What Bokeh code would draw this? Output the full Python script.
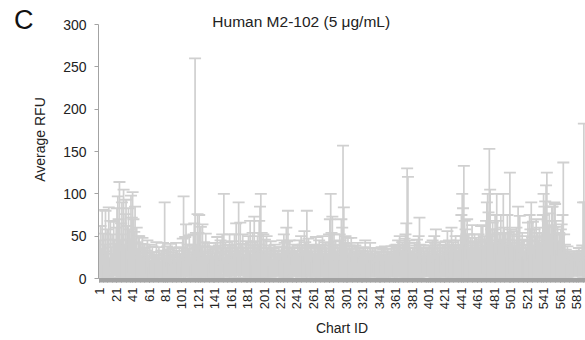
import math
from bokeh.plotting import figure
from bokeh.models import ColumnDataSource, Whisker, TeeHead, Range1d, FixedTicker, Label, LinearAxis
from bokeh.embed import file_html
from bokeh.resources import INLINE

# ---------------- data ----------------
chart_ids = list(range(1, 601))

mean_rfu = [
    25, 32, 20, 36, 16, 28, 22, 40, 18, 30, 24, 34, 14, 38, 21, 28, 17, 32, 26, 23,
    30, 38, 42, 35, 47, 25, 33, 40, 27, 45, 22, 36, 41, 24, 32, 38, 30, 26, 43, 34,
    42, 35, 27, 40, 23, 30, 20, 25, 28, 17, 21, 15, 24, 19, 22, 16, 20, 18, 23, 14,
    15, 18, 12, 16, 20, 14, 17, 11, 15, 19, 13, 16, 20, 14, 12, 18, 15, 22, 17, 25,
    14, 17, 20, 13, 18, 15, 21, 12, 17, 14, 19, 16, 13, 22, 15, 18, 13, 20, 16, 14,
    20, 25, 30, 18, 24, 34, 16, 22, 20, 27, 15, 23, 18, 21, 26, 30, 40, 24, 20, 26,
    24, 30, 18, 26, 21, 34, 16, 23, 20, 28, 15, 22, 18, 24, 14, 21, 17, 19, 14, 20,
    16, 22, 19, 25, 15, 21, 17, 24, 20, 30, 18, 35, 14, 23, 19, 16, 22, 18, 26, 21,
    18, 24, 20, 16, 26, 22, 30, 17, 21, 35, 19, 26, 15, 23, 28, 20, 16, 22, 18, 24,
    20, 26, 18, 30, 23, 16, 28, 21, 33, 18, 24, 20, 26, 22, 30, 35, 40, 24, 18, 26,
    18, 22, 16, 24, 20, 15, 21, 17, 23, 19, 14, 20, 16, 22, 18, 15, 19, 17, 21, 16,
    17, 21, 24, 19, 26, 22, 18, 30, 23, 35, 20, 24, 16, 21, 18, 22, 15, 20, 17, 19,
    18, 21, 16, 24, 20, 26, 17, 22, 19, 30, 23, 18, 35, 21, 26, 17, 20, 15, 22, 18,
    16, 20, 18, 23, 15, 21, 19, 24, 17, 22, 20, 26, 16, 21, 18, 23, 19, 17, 22, 26,
    30, 35, 24, 28, 21, 26, 20, 23, 18, 22, 17, 21, 26, 24, 30, 28, 40, 26, 21, 24,
    20, 18, 22, 16, 21, 19, 24, 17, 20, 15, 18, 21, 16, 19, 22, 17, 20, 18, 16, 19,
    16, 19, 14, 21, 17, 15, 20, 18, 16, 22, 14, 18, 20, 15, 17, 19, 16, 14, 18, 15,
    14, 17, 15, 19, 16, 18, 13, 20, 15, 17, 19, 14, 16, 18, 15, 20, 17, 16, 19, 21,
    18, 22, 20, 24, 19, 26, 21, 18, 23, 20, 22, 25, 26, 30, 35, 30, 22, 24, 20, 18,
    16, 20, 18, 22, 17, 21, 24, 19, 26, 30, 22, 18, 20, 16, 21, 18, 15, 19, 17, 20,
    18, 21, 16, 23, 19, 24, 20, 26, 22, 28, 18, 21, 17, 20, 23, 19, 16, 22, 18, 21,
    20, 23, 18, 26, 21, 24, 19, 22, 30, 20, 23, 18, 21, 26, 22, 19, 24, 21, 20, 26,
    30, 35, 33, 40, 28, 26, 24, 30, 22, 26, 20, 24, 21, 28, 23, 19, 26, 22, 24, 21,
    22, 26, 20, 24, 30, 23, 28, 21, 26, 24, 30, 35, 40, 33, 45, 30, 26, 24, 28, 22,
    26, 30, 24, 35, 28, 23, 26, 21, 30, 24, 26, 40, 28, 23, 26, 22, 30, 26, 24, 35,
    26, 22, 24, 20, 26, 23, 21, 28, 24, 30, 22, 26, 20, 23, 26, 21, 24, 18, 22, 20,
    24, 28, 22, 30, 26, 35, 23, 29, 21, 26, 24, 30, 20, 26, 23, 28, 22, 26, 24, 30,
    35, 30, 33, 40, 45, 28, 26, 32, 24, 28, 35, 30, 26, 40, 33, 28, 24, 26, 22, 26,
    24, 26, 28, 30, 35, 24, 20, 18, 16, 20, 14, 18, 16, 15, 17, 14, 16, 18, 15, 13,
    16, 18, 15, 20, 17, 14, 19, 21, 30, 40, 35, 18, 16, 20, 17, 15, 18, 16, 14, 17,
]

err_rfu = [
    20, 30, 15, 45, 12, 25, 18, 40, 14, 28, 22, 50, 10, 30, 16, 24, 12, 35, 20, 18,
    30, 45, 55, 35, 67, 20, 32, 50, 25, 60, 18, 40, 52, 22, 30, 45, 28, 20, 55, 38,
    60, 35, 28, 45, 20, 30, 15, 25, 22, 14, 20, 12, 24, 16, 18, 13, 17, 15, 22, 11,
    12, 22, 9, 15, 18, 10, 14, 8, 12, 24, 9, 12, 17, 11, 8, 15, 12, 20, 13, 65,
    10, 15, 18, 9, 16, 12, 20, 8, 14, 11, 17, 12, 10, 20, 11, 15, 9, 17, 13, 11,
    16, 22, 67, 15, 25, 30, 12, 18, 15, 24, 10, 17, 13, 18, 26, 35, 220, 30, 16, 50,
    30, 45, 20, 35, 16, 30, 14, 20, 18, 25, 12, 20, 14, 18, 11, 16, 13, 15, 10, 18,
    14, 20, 16, 24, 11, 18, 13, 21, 16, 22, 14, 65, 11, 20, 16, 12, 18, 14, 26, 18,
    14, 20, 16, 12, 26, 18, 35, 12, 16, 55, 14, 40, 11, 18, 24, 16, 12, 18, 14, 20,
    16, 24, 14, 38, 20, 12, 26, 18, 40, 14, 20, 16, 24, 18, 38, 50, 60, 30, 14, 26,
    14, 24, 12, 26, 16, 11, 18, 13, 21, 16, 9, 16, 12, 18, 14, 11, 14, 12, 16, 12,
    12, 16, 21, 14, 26, 20, 14, 30, 21, 45, 16, 21, 12, 16, 13, 18, 11, 16, 12, 14,
    14, 18, 12, 21, 16, 24, 12, 18, 14, 26, 20, 13, 45, 18, 21, 12, 16, 11, 18, 14,
    12, 18, 14, 26, 11, 18, 16, 21, 12, 18, 16, 24, 12, 18, 14, 20, 16, 12, 20, 26,
    40, 65, 30, 45, 18, 26, 16, 21, 14, 18, 12, 16, 26, 21, 40, 32, 117, 58, 21, 26,
    21, 16, 26, 14, 18, 16, 24, 12, 18, 11, 14, 18, 12, 16, 20, 13, 16, 14, 11, 14,
    14, 18, 10, 24, 12, 11, 16, 14, 12, 20, 9, 14, 16, 10, 12, 16, 11, 9, 14, 10,
    10, 14, 11, 18, 12, 16, 9, 18, 11, 14, 16, 10, 12, 14, 10, 18, 13, 12, 16, 18,
    14, 18, 16, 21, 14, 24, 18, 14, 20, 16, 18, 22, 26, 35, 95, 90, 20, 21, 16, 14,
    12, 16, 14, 20, 12, 18, 22, 16, 24, 42, 18, 14, 16, 11, 18, 14, 10, 16, 12, 16,
    14, 18, 11, 20, 16, 21, 16, 24, 20, 30, 14, 18, 12, 16, 20, 16, 11, 18, 14, 18,
    16, 21, 14, 30, 18, 21, 14, 18, 30, 16, 20, 14, 18, 24, 18, 14, 21, 18, 16, 24,
    45, 65, 50, 93, 40, 32, 28, 40, 20, 26, 16, 24, 18, 35, 21, 16, 26, 20, 24, 18,
    20, 26, 16, 22, 32, 21, 35, 18, 24, 22, 38, 55, 60, 45, 108, 75, 32, 26, 38, 20,
    32, 45, 28, 65, 40, 22, 28, 18, 45, 22, 28, 60, 32, 20, 28, 18, 45, 28, 22, 90,
    32, 20, 28, 18, 30, 22, 18, 32, 26, 55, 20, 48, 16, 22, 28, 18, 22, 14, 18, 16,
    26, 38, 22, 45, 32, 55, 26, 38, 18, 32, 26, 40, 16, 28, 22, 32, 20, 28, 24, 45,
    65, 55, 58, 70, 80, 40, 35, 45, 28, 35, 50, 55, 35, 50, 55, 40, 28, 35, 22, 28,
    28, 32, 36, 45, 102, 28, 20, 16, 14, 18, 11, 14, 12, 10, 13, 11, 12, 14, 11, 9,
    12, 14, 11, 16, 13, 10, 14, 18, 60, 143, 55, 14, 12, 16, 13, 10, 14, 12, 10, 13,
]

x_tick_ids = list(range(1, 600, 20))
y_ticks = [0, 50, 100, 150, 200, 250, 300]

title_text = "Human M2-102 (5 μg/mL)"
panel_letter = "C"

# ---------------- figure ----------------
GRAY = "#d0d0d0"
AXIS = "#a3a3a3"
TXT = "#222222"
FONT = "Liberation Sans"
Y_TOP = 328.35          # frame reaches the top of the page; the axis itself stops at 300

upper = [m + e for m, e in zip(mean_rfu, err_rfu)]
lower = [max(m - e, 0) for m, e in zip(mean_rfu, err_rfu)]
src = ColumnDataSource(dict(x=chart_ids, mean=mean_rfu, upper=upper, lower=lower))

p = figure(width=585, height=340, output_backend="svg", toolbar_location=None,
           x_range=Range1d(-0.5, 592), y_range=Range1d(0, Y_TOP),
           min_border_left=98, min_border_right=0, min_border_top=0, min_border_bottom=62)
p.outline_line_color = None
p.grid.visible = False
p.background_fill_color = "white"

p.vbar(x="x", top="mean", width=0.6, source=src, fill_color=GRAY, line_color=None)

w = Whisker(source=src, base="x", upper="upper", lower="lower",
            line_color=GRAY, line_width=1.7,
            upper_head=TeeHead(size=12, line_color=GRAY, line_width=1.8),
            lower_head=TeeHead(size=12, line_color=GRAY, line_width=1.8))
p.add_layout(w)

# axes
xa = p.xaxis[0]
xa.ticker = FixedTicker(ticks=x_tick_ids, minor_ticks=chart_ids)
xa.major_label_orientation = math.pi / 2
xa.major_label_text_font = FONT
xa.major_label_text_font_size = "13px"
xa.major_label_text_color = TXT
xa.major_label_standoff = 5
xa.axis_line_color = AXIS
xa.major_tick_line_color = AXIS
xa.minor_tick_line_color = AXIS
xa.major_tick_out = 4
xa.major_tick_in = 0
xa.minor_tick_out = 4
xa.minor_tick_in = 0
xa.axis_label = "Chart ID"
xa.axis_label_text_font = FONT
xa.axis_label_text_font_style = "normal"
xa.axis_label_text_font_size = "14px"
xa.axis_label_text_color = TXT
xa.axis_label_standoff = 8

ya = p.yaxis[0]
ya.ticker = FixedTicker(ticks=y_ticks)
ya.bounds = (0, 300)
ya.major_label_text_font = FONT
ya.major_label_text_font_size = "14px"
ya.major_label_text_color = TXT
ya.major_label_standoff = 8
ya.axis_line_color = AXIS
ya.major_tick_line_color = AXIS
ya.major_tick_out = 4
ya.major_tick_in = 0
ya.minor_tick_line_color = None
ya.axis_label = "Average RFU"
ya.axis_label_text_font = FONT
ya.axis_label_text_font_style = "normal"
ya.axis_label_text_font_size = "14px"
ya.axis_label_text_color = TXT
ya.axis_label_standoff = 12

# panel letter "C" drawn as the single label of an outer, line-less axis
c_axis = LinearAxis(ticker=FixedTicker(ticks=[305]), major_label_overrides={305: panel_letter},
                    axis_line_color=None, major_tick_line_color=None, minor_tick_line_color=None,
                    major_tick_out=0, major_tick_in=0,
                    major_label_text_font=FONT, major_label_text_font_size="27px",
                    major_label_text_color="#111111", major_label_standoff=-4)
p.add_layout(c_axis, "left")

p.add_layout(Label(x=138, y=314, text=title_text, text_font=FONT, text_font_size="15.5px",
                   text_color=TXT, text_baseline="top", text_align="left"))

open("out.html", "w").write(file_html(p, INLINE))
